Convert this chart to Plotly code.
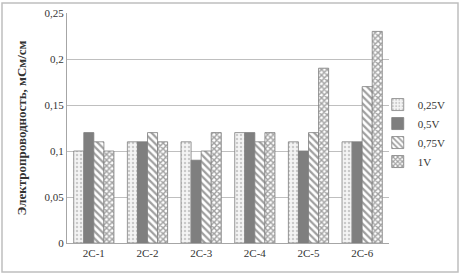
import plotly.graph_objects as go

categories = ["2C-1", "2C-2", "2C-3", "2C-4", "2C-5", "2C-6"]
series_names = ["0,25V", "0,5V", "0,75V", "1V"]
v025 = [0.10, 0.11, 0.11, 0.12, 0.11, 0.11]
v05 = [0.12, 0.11, 0.09, 0.12, 0.10, 0.11]
v075 = [0.11, 0.12, 0.10, 0.11, 0.12, 0.17]
v1 = [0.10, 0.11, 0.12, 0.12, 0.19, 0.23]
tick_vals = [0, 0.05, 0.1, 0.15, 0.2, 0.25]
tick_text = ["0", "0,05", "0,1", "0,15", "0,2", "0,25"]

styles = [
    dict(color="#f2f2f2", pattern=dict(shape=".", fgcolor="#a0a0a0", bgcolor="#f4f4f4", size=4, solidity=0.3)),
    dict(color="#7f7f7f", pattern=dict(shape="")),
    dict(color="white", pattern=dict(shape="\\", fgcolor="#404040", bgcolor="white", size=5, solidity=0.45)),
    dict(color="white", pattern=dict(shape="x", fgcolor="#444444", bgcolor="white", size=4, solidity=0.6)),
]

fig = go.Figure()
for name, vals, st in zip(series_names, [v025, v05, v075, v1], styles):
    fig.add_trace(go.Bar(
        x=categories, y=vals, name=name,
        marker=dict(color=st["color"], pattern=st["pattern"],
                    line=dict(color="#7f7f7f", width=0.8)),
    ))

W, H = 461, 276
L, R, T, B = 67, 72, 13, 33
pw, ph = W - L - R, H - T - B

def px(x):
    return (x - L) / pw

def py(y):
    return (H - B - y) / ph

fig.update_layout(
    width=W, height=H,
    margin=dict(l=L, r=R, t=T, b=B, autoexpand=False),
    paper_bgcolor="white", plot_bgcolor="white",
    barmode="group", bargap=0.25, bargroupgap=0,
    font=dict(family="Liberation Serif", size=11, color="#333333"),
    showlegend=True,
    legend=dict(x=0.965, y=0.665, xanchor="left", yanchor="top",
                font=dict(family="Liberation Serif", size=11, color="#333333"),
                itemwidth=30, tracegroupgap=8, bgcolor="rgba(0,0,0,0)"),
    xaxis=dict(showline=True, linecolor="#a6a6a6", linewidth=1, ticks="",
               tickfont=dict(size=11)),
    yaxis=dict(range=[0, 0.25], tickvals=tick_vals, ticktext=tick_text,
               showgrid=True, gridcolor="#bfbfbf", gridwidth=1,
               showline=True, linecolor="#a6a6a6", linewidth=1, zeroline=False,
               tickfont=dict(size=11), ticks="", ticklen=4,
               title=dict(text="<b>Электропроводность, мСм/см</b>",
                          font=dict(family="Liberation Serif", size=13, color="#333333"),
                          standoff=14)),
    shapes=[dict(type="rect", xref="paper", yref="paper",
                 x0=px(2), x1=px(458), y0=py(272), y1=py(3),
                 line=dict(color="#bfbfbf", width=1.5), fillcolor="rgba(0,0,0,0)")],
)

fig.write_html("out.html", config={"displayModeBar": False},
               post_script="document.body.style.margin='0';document.body.style.padding='0';")
